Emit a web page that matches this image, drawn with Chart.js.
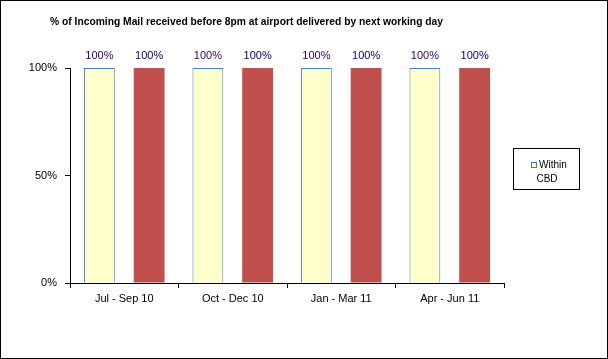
<!DOCTYPE html>
<html>
<head>
<meta charset="utf-8">
<script src="https://cdn.jsdelivr.net/npm/chart.js@4/dist/chart.umd.min.js"></script>
<style>
  body { margin: 0; background: #fff; }
  #wrap { width: 608px; height: 359px; position: relative; }
</style>
</head>
<body>
<div id="wrap"><canvas id="mailChart" width="608" height="359"></canvas></div>
<script>
let quarters = ["Jul - Sep 10", "Oct - Dec 10", "Jan - Mar 11", "Apr - Jun 11"];
let withinCbd = [100, 100, 100, 100];
let outsideCbd = [100, 100, 100, 100];
let yTicks = [0, 50, 100];

const titleText = "% of Incoming Mail received before 8pm at airport delivered by next working day";
const fontName = "'Liberation Sans', Arial, sans-serif";

// border, title, value labels and boxed legend
const extras = {
  id: "extras",
  afterDraw: (chart) => {
    let ctx = chart.ctx;
    ctx.save();

    ctx.strokeStyle = "#000";
    ctx.lineWidth = 1;
    ctx.strokeRect(0.5, 0.5, 607, 358);

    ctx.fillStyle = "#000";
    ctx.font = "bold 11px " + fontName;
    ctx.textBaseline = "middle";
    ctx.textAlign = "left";
    let w = ctx.measureText(titleText).width;
    ctx.save();
    ctx.translate(50, 22);
    ctx.scale(393 / w, 1);
    ctx.fillText(titleText, 0, 0);
    ctx.restore();

    ctx.font = "11px " + fontName;
    ctx.textAlign = "center";
    ctx.textBaseline = "middle";
    let labelColors = ["#330066", "#000066"];
    chart.data.datasets.forEach((ds, i) => {
      chart.getDatasetMeta(i).data.forEach((bar, j) => {
        ctx.fillStyle = labelColors[i];
        ctx.fillText(ds.data[j] + "%", bar.x, bar.y - 12);
      });
    });

    // legend box
    ctx.strokeStyle = "#000";
    ctx.strokeRect(513.5, 148.5, 66, 41);
    let first = chart.data.datasets[0];
    ctx.fillStyle = first.backgroundColor;
    ctx.fillRect(531, 162, 6, 6);
    ctx.strokeStyle = first.borderColor;
    ctx.strokeRect(531.5, 162.5, 5, 5);
    ctx.fillStyle = "#000";
    ctx.font = "10px " + fontName;
    ctx.textAlign = "left";
    let parts = first.label.split(" ");
    ctx.fillText(parts[0], 539, 165);
    ctx.textAlign = "center";
    ctx.fillText(parts.slice(1).join(" "), 547, 179);

    ctx.restore();
  },
};

const chartContainer = document.getElementById("mailChart").getContext("2d");
const mailChart = new Chart(chartContainer, {
  type: "bar",
  data: {
    labels: quarters,
    datasets: [
      {
        label: "Within CBD",
        data: withinCbd,
        backgroundColor: "#FFFFCC",
        borderColor: "#4A7EBB",
        borderWidth: 1,
      },
      {
        label: "",
        data: outsideCbd,
        backgroundColor: "#C0504D",
        borderColor: "#C0504D",
        borderWidth: 0,
      },
    ],
  },
  options: {
    responsive: false,
    animation: false,
    categoryPercentage: 0.917,
    barPercentage: 0.62,
    layout: {
      padding: { top: 68, right: 104, left: 0, bottom: 0 },
    },
    plugins: {
      legend: { display: false },
      title: { display: false },
      tooltip: { enabled: false },
    },
    scales: {
      x: {
        afterFit: (scale) => {
          scale.height = 76;
        },
        grid: {
          drawOnChartArea: false,
          color: "#000",
          tickLength: 5,
        },
        border: { color: "#000" },
        ticks: {
          color: "#000",
          font: { size: 11, family: fontName },
          padding: 4,
        },
      },
      y: {
        min: 0,
        max: 100,
        afterFit: (scale) => {
          scale.width = 70;
        },
        afterBuildTicks: (scale) => {
          scale.ticks = yTicks.map((v) => ({ value: v }));
        },
        grid: {
          drawOnChartArea: false,
          color: "#000",
          tickLength: 5,
        },
        border: { color: "#000" },
        ticks: {
          color: "#000",
          font: { size: 11, family: fontName },
          padding: 8,
          callback: (v) => v + "%",
        },
      },
    },
  },
  plugins: [extras],
});
</script>
</body>
</html>
